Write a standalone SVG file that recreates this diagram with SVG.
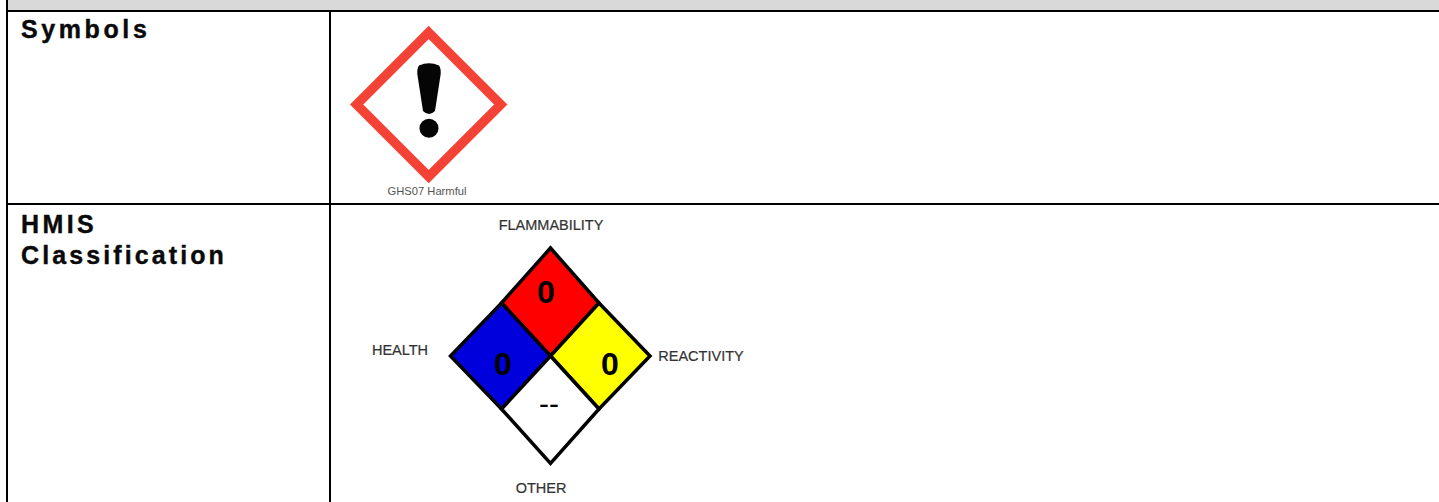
<svg xmlns="http://www.w3.org/2000/svg" width="1439" height="502" viewBox="0 0 1439 502">
<style>
.rule{stroke:#000;stroke-width:2;fill:none}
.h{font:bold 25px "Liberation Sans",Arial,sans-serif;fill:#0a0a0a;stroke:#0a0a0a;stroke-width:.4}
.l{font:14.5px "Liberation Sans",Arial,sans-serif;fill:#333;text-anchor:middle;stroke:#333;stroke-width:.2}
.n{font:bold 32px "Liberation Sans",Arial,sans-serif;fill:#000;text-anchor:middle}
.e{stroke:#000;stroke-width:3.500;stroke-linejoin:miter}
</style>
<rect width="1439" height="502" fill="#fff"/>
<rect x="7" y="0" width="1432" height="11" fill="#d9d9d9"/>
<g id="table">
<path class="rule" d="M7 0V502M330 11V502M7 11H1439M7 204H1439"/>
</g>
<g id="symbols-label"><text class="h" x="21" y="38" letter-spacing="3.600">Symbols</text></g>
<g id="ghs07">
<polygon points="428.700,32.500 500.700,104.500 428.700,176.500 356.700,104.500" fill="#fff" stroke="#f44336" stroke-width="9.500"/>
<path d="M419 65.500Q429 61 439 65.500Q441 68 440.700 74L435 111Q429 117 423 111L417.300 74Q417 68 419 65.500Z" fill="#050505"/>
<circle cx="429" cy="128.300" r="9.500" fill="#050505"/>
<text x="427" y="195" style="font:11.200px 'Liberation Sans',Arial,sans-serif;fill:#555;text-anchor:middle">GHS07 Harmful</text>
</g>
<g id="hmis-label"><text class="h" x="21" y="233" letter-spacing="3.400">HMIS</text><text class="h" x="21" y="264" letter-spacing="3.100">Classification</text></g>
<g id="hmis-diamond">
<polygon class="e" points="550.500,248 599,303 550.500,356 501.500,303" fill="#f00"/>
<polygon class="e" points="501.500,303 550.500,356 501.500,409 450.500,356" fill="#00d"/>
<polygon class="e" points="599,303 650,356 599,409 550.500,356" fill="#ff0"/>
<polygon class="e" points="550.500,356 599,409 550.500,463.500 501.500,409" fill="#fff"/>
<text class="n" x="546" y="303">0</text>
<text class="n" x="503" y="375">0</text>
<text class="n" x="610" y="375">0</text>
<text x="549" y="414" style="font:30px 'Liberation Sans',Arial,sans-serif;text-anchor:middle">--</text>
<text class="l" x="551" y="230">FLAMMABILITY</text>
<text class="l" x="400" y="355">HEALTH</text>
<text class="l" x="701" y="361">REACTIVITY</text>
<text class="l" x="541" y="493">OTHER</text>
</g>
</svg>
